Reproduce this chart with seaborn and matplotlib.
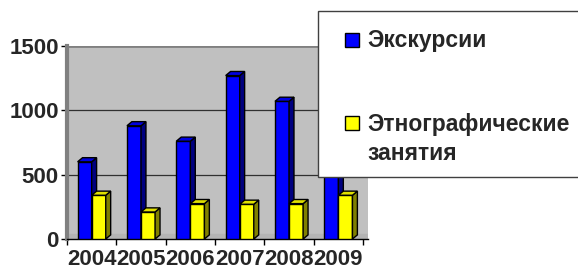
import matplotlib
matplotlib.use("Agg")
import matplotlib.pyplot as plt
import seaborn as sns
import pandas as pd
from matplotlib.patches import Polygon, Rectangle

years = ["2004", "2005", "2006", "2007", "2008", "2009"]
series_names = ["Экскурсии", "Этнографические\nзанятия"]
excursions = [600, 880, 760, 1270, 1070, 720]
ethno = [340, 210, 275, 270, 275, 340]
y_ticks = [0, 500, 1000, 1500]

colors = ["#0000ff", "#ffff00"]
side_colors = ["#000080", "#808000"]
top_colors = ["#0000e0", "#e0e000"]

df = pd.DataFrame({
    "year": years * 2,
    "series": [series_names[0]] * len(years) + [series_names[1]] * len(years),
    "value": excursions + ethno,
})

sns.set_theme(style="white")
plt.rcParams["font.family"] = ["Liberation Sans", "DejaVu Sans"]
plt.rcParams["font.weight"] = "bold"

W, H = 578, 273
fig = plt.figure(figsize=(W / 100, H / 100), dpi=100)
fig.patch.set_facecolor("white")
ax = fig.add_axes([67 / W, (H - 239) / H, (368 - 67) / W, (239 - 46) / H])
ax.set_facecolor("#c0c0c0")

sns.barplot(data=df, x="year", y="value", hue="series", palette=colors,
            width=0.57, edgecolor="black", linewidth=1.0, legend=False,
            saturation=1, ax=ax, zorder=3)

ax.set_xlim(-0.5, 5.6)
ax.set_ylim(0, 1500)

# 3D faces on bars
dx, dy = 0.1, 32
bars = [p for p in ax.patches if p.get_height() > 0]
n = len(years)
for i, p in enumerate(bars):
    s = i // n
    x0 = p.get_x()
    w = p.get_width()
    h = p.get_height()
    z = 3 + s * 2
    p.set_zorder(z)
    side = Polygon([(x0 + w, 0), (x0 + w + dx, dy), (x0 + w + dx, h + dy), (x0 + w, h)],
                   closed=True, facecolor=side_colors[s], edgecolor="black", lw=1.0, zorder=z)
    top = Polygon([(x0, h), (x0 + dx, h + dy), (x0 + w + dx, h + dy), (x0 + w, h)],
                  closed=True, facecolor=top_colors[s], edgecolor="black", lw=1.0, zorder=z)
    ax.add_patch(side)
    ax.add_patch(top)

# grid lines
for yv in y_ticks[1:3]:
    ax.axhline(yv, color="#303030", lw=0.9, zorder=1)
ax.axhline(1500, color="#808080", lw=2, zorder=1)

# floor strip
ax.axhspan(0, 40, color="#b4b4b4", zorder=1.5)

for sp in ["top", "right"]:
    ax.spines[sp].set_visible(False)
ax.spines["left"].set_color("#808080")
ax.spines["left"].set_linewidth(3)
ax.spines["bottom"].set_color("black")
ax.spines["bottom"].set_linewidth(1)

FS = 16.5
ax.set_yticks(y_ticks)
ax.set_yticklabels([str(v) for v in y_ticks], fontsize=16, fontweight="bold")
ax.set_xticks(range(len(years)))
ax.set_xticklabels(years, fontsize=16, fontweight="bold")
ax.tick_params(axis="x", length=0, pad=7.5)
ax.tick_params(axis="y", length=4, width=1, color="black", left=True, pad=2)
ax.set_xticks([i - 0.5 for i in range(len(years) + 1)], minor=True)
ax.tick_params(axis="x", which="minor", length=4, width=1, color="black", bottom=True)
ax.set_xlabel("")
ax.set_ylabel("")

# legend box
fig.patches.append(Rectangle((318 / W, (H - 177) / H), (W - 318 + 20) / W, (177 - 11) / H,
                             transform=fig.transFigure, facecolor="white",
                             edgecolor="#404040", lw=1.0, zorder=10))
leg_y = [40, 123]
for c, yc in zip(colors, leg_y):
    fig.patches.append(Rectangle((345 / W, (H - yc - 7) / H), 14 / W, 14 / H,
                                 transform=fig.transFigure, facecolor=c,
                                 edgecolor="black", lw=1.0, zorder=11))
fig.text(367 / W, (H - 41) / H, series_names[0], ha="left", va="center",
         fontsize=FS, fontweight="bold", zorder=12)
lines = series_names[1].split("\n")
fig.text(367 / W, (H - 124) / H, lines[0], ha="left", va="center",
         fontsize=FS, fontweight="bold", zorder=12)
fig.text(367 / W, (H - 153) / H, lines[1], ha="left", va="center",
         fontsize=FS, fontweight="bold", zorder=12)

fig.savefig("out.png", dpi=100)
